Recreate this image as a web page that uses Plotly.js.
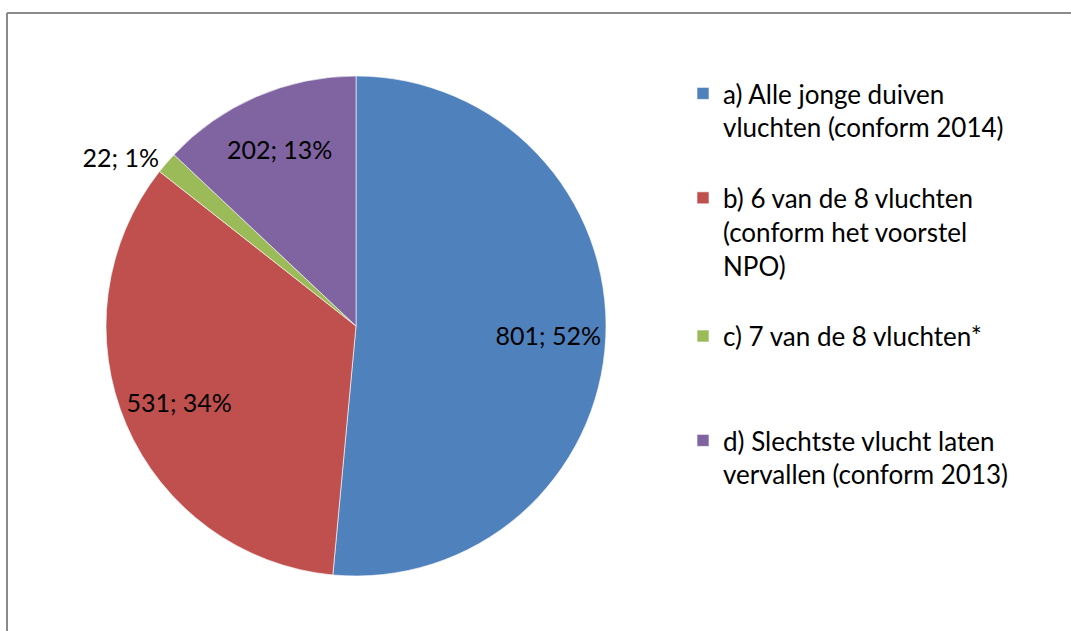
<!DOCTYPE html>
<html>
<head>
<meta charset="utf-8">
<script src="https://cdn.plot.ly/plotly-3.0.1.min.js"></script>
<style>
  html, body { margin: 0; padding: 0; background: #ffffff; }
  #chart { width: 1071px; height: 631px; }
</style>
</head>
<body>
<div id="chart"></div>
<script>
// Legend labels (line breaks as in the reference legend; trailing blanks space the entries)
const categories = [
  "a) Alle jonge duiven<br>vluchten (conform 2014)<br> ",
  "b) 6 van de 8 vluchten<br>(conform het voorstel<br>NPO)<br> ",
  "c) 7 van de 8 vluchten*<br> <br> ",
  "d) Slechtste vlucht laten<br>vervallen (conform 2013)"
];
const values = [801, 531, 22, 202];
// Percentages as printed on the reference data labels
const percentLabels = ["52%", "34%", "1%", "13%"];
const colors = ["#4F81BD", "#C0504D", "#9BBB59", "#8064A2"];
const textPositions = ["inside", "inside", "outside", "inside"];

const W = 1071, H = 631;
const px = x => x / W;
const py = y => 1 - y / H;

const cx = 356, cy = 326, r = 250;
const domain = { x: [px(cx - r), px(cx + r)], y: [py(cy + r), py(cy - r)] };
const labelFont = { family: "Lato, 'Open Sans', sans-serif", size: 25, color: "#000000" };

// Slices
const pieTrace = {
  type: "pie",
  labels: categories,
  values: values,
  sort: false,
  direction: "clockwise",
  rotation: 0,
  marker: { colors: colors, line: { color: "rgba(255,255,255,0.6)", width: 1 } },
  textinfo: "none",
  textposition: "none",
  hoverinfo: "label+value+percent",
  domain: domain,
  automargin: false
};

// Data labels (same values, transparent ring so labels sit out towards the rim)
const labelTrace = {
  type: "pie",
  labels: categories,
  values: values,
  customdata: percentLabels,
  sort: false,
  direction: "clockwise",
  rotation: 0,
  hole: 0.54,
  marker: { colors: ["rgba(0,0,0,0)", "rgba(0,0,0,0)", "rgba(0,0,0,0)", "rgba(0,0,0,0)"], line: { width: 0 } },
  texttemplate: "%{value}; %{customdata}",
  textposition: textPositions,
  insidetextorientation: "horizontal",
  textfont: labelFont,
  insidetextfont: labelFont,
  outsidetextfont: labelFont,
  hoverinfo: "skip",
  showlegend: false,
  domain: domain,
  automargin: false
};

const layout = {
  width: W, height: H,
  margin: { l: 0, r: 0, t: 0, b: 0 },
  paper_bgcolor: "#ffffff",
  showlegend: true,
  legend: {
    x: px(683), y: py(70), xanchor: "left", yanchor: "top",
    font: { family: "Lato, 'Open Sans', sans-serif", size: 26, color: "#000000" },
    valign: "top",
    traceorder: "normal",
    itemclick: false
  },
  shapes: [
    { type: "line", xref: "paper", yref: "paper", x0: px(7), x1: 1, y0: py(13), y1: py(13),
      line: { color: "#8a8a8a", width: 2 } },
    { type: "line", xref: "paper", yref: "paper", x0: px(7), x1: px(7), y0: py(13), y1: 0,
      line: { color: "#8a8a8a", width: 2 } }
  ]
};

Plotly.newPlot("chart", [pieTrace, labelTrace], layout, { displayModeBar: false, staticPlot: true });
</script>
</body>
</html>
